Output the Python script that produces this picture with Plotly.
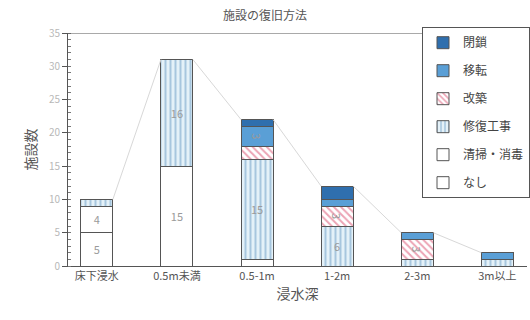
import plotly.graph_objects as go

categories = ["床下浸水", "0.5m未満", "0.5-1m", "1-2m", "2-3m", "3m以上"]
nashi = [5, 0, 0, 0, 0, 0]
seisou = [4, 15, 1, 0, 0, 0]
shufuku = [1, 16, 15, 6, 1, 1]
kaichiku = [0, 0, 2, 3, 3, 0]
iten = [0, 0, 3, 1, 1, 1]
heisa = [0, 0, 1, 2, 0, 0]
y_ticks = [0, 5, 10, 15, 20, 25, 30, 35]

series = [
    ("なし", nashi, "#ffffff", "", "#ffffff"),
    ("清掃・消毒", seisou, "#ffffff", "", "#ffffff"),
    ("修復工事", shufuku, "#e4f1f8", "|", "#6a9cc4"),
    ("改築", kaichiku, "#ffffff", "\\", "#d9486a"),
    ("移転", iten, "#5a9fd6", "", "#5a9fd6"),
    ("閉鎖", heisa, "#2f6fae", "", "#2f6fae"),
]

x = list(range(len(categories)))
width = 0.4
fig = go.Figure()

totals = [sum(v) for v in zip(*[s[1] for s in series])]
# faint series lines connecting bar tops
for i in range(len(categories) - 1):
    fig.add_trace(go.Scatter(
        x=[x[i] + width / 2, x[i + 1] - width / 2],
        y=[totals[i], totals[i + 1]],
        mode="lines", line=dict(color="#d8d8d8", width=1),
        showlegend=False, hoverinfo="skip"))

n = len(series)
for k, (name, vals, color, shape, fg) in enumerate(series):
    pattern = dict(shape=shape, fgcolor=fg, bgcolor=color, size=5, solidity=0.4) if shape else None
    texts = [str(v) if v >= 3 else "" for v in vals]
    fig.add_trace(go.Bar(
        x=x, y=vals, name=name, width=width, legendgroup=name, legendrank=1000 + (n - k),
        marker=dict(color=color, line=dict(color="#555555", width=1), pattern=pattern),
        text=texts, textposition="inside", insidetextanchor="middle",
        textfont=dict(color="#9a9a9a", size=11), cliponaxis=False,
    ))

fig.update_layout(
    barmode="stack",
    width=530, height=320,
    margin=dict(l=68, r=0, t=33, b=54),
    paper_bgcolor="#ffffff", plot_bgcolor="#ffffff",
    font=dict(family="Noto Sans CJK JP", color="#555555"),
    title=dict(text="施設の復旧方法", x=0.5, xanchor="center", y=0.95, yanchor="middle",
               font=dict(size=12, color="#555555")),
    legend=dict(x=0.772, y=1.025, xanchor="left", yanchor="top", traceorder="grouped",
                bordercolor="#555555", borderwidth=1, bgcolor="#ffffff",
                font=dict(size=12, color="#444444"), itemwidth=30, tracegroupgap=9,
                maxheight=300),
    showlegend=True,
    uniformtext=dict(minsize=8, mode="hide"),
)
fig.update_xaxes(
    range=[-0.36, 5.37], tickvals=x, ticktext=categories,
    showline=True, linecolor="#555555", mirror=False, ticks="",
    tickfont=dict(size=11, color="#555555"),
    title=dict(text="浸水深", font=dict(size=14, color="#555555"), standoff=6),
    showgrid=False, zeroline=False,
)
fig.update_yaxes(
    range=[0, 35], tickvals=y_ticks, showline=True, linecolor="#555555",
    ticks="outside", ticklen=5, tickcolor="#555555",
    minor=dict(ticks="inside", dtick=1, ticklen=3, tickcolor="#777777"),
    tickfont=dict(size=10, color="#b8b8b8"),
    title=dict(text="施設数", font=dict(size=14, color="#555555"), standoff=8),
    showgrid=False, zeroline=False,
)
fig.add_shape(type="line", xref="paper", yref="y", x0=0, x1=1, y0=35, y1=35,
              line=dict(color="#555555", width=1))

fig.write_html("out.html")
